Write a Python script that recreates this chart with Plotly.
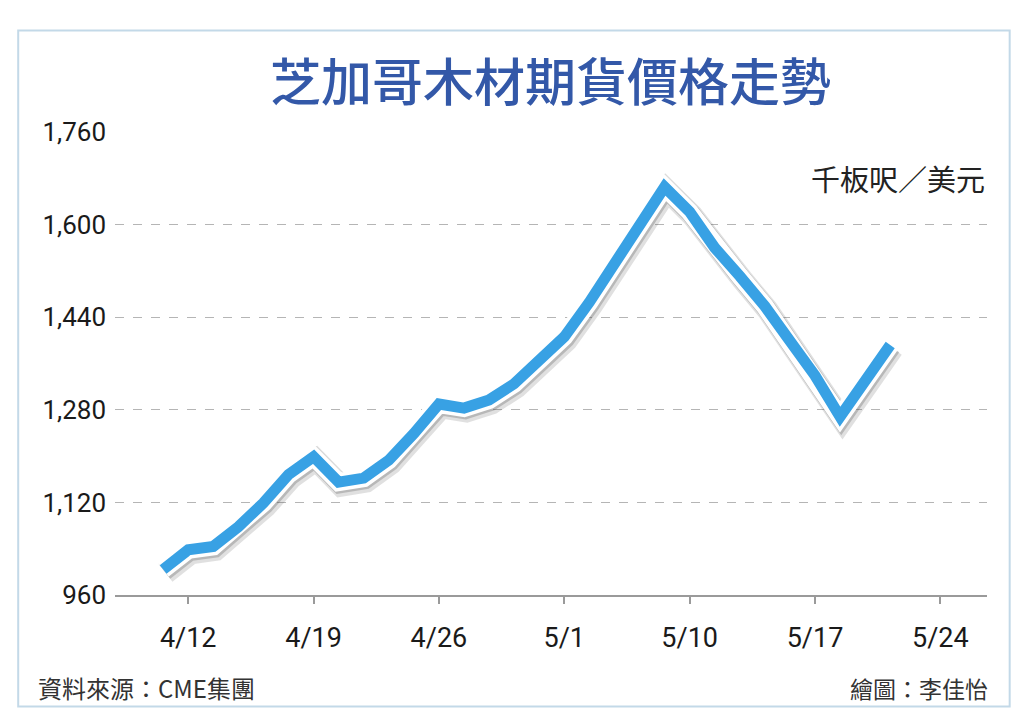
import plotly.graph_objects as go

# trading-day index (0 = 4/12) and settle price, USD per 1,000 board feet
day_idx = list(range(-1, 29))
price = [1004, 1038, 1044, 1078, 1119, 1168, 1199, 1155, 1162, 1193,
         1239, 1290, 1283, 1297, 1325, 1363, 1406, 1466, 1530, 1594,
         1665, 1622, 1560, 1511, 1459, 1399, 1339, 1268, 1330, 1392]

x_tick_pos = [0, 5, 10, 15, 20, 25, 30]
x_tick_text = ['4/12', '4/19', '4/26', '5/1', '5/10', '5/17', '5/24']
y_ticks = [960, 1120, 1280, 1440, 1600, 1760]

title_text = '芝加哥木材期貨價格走勢'
unit_text = '千板呎／美元'
source_text = '資料來源：CME集團'
credit_text = '繪圖：李佳怡'

CJK = 'Noto Sans CJK TC'
LINE_BLUE = '#38a1e4'

fig = go.Figure()

# soft drop shadow, white halo, then the blue line on top
fig.add_trace(go.Scatter(
    x=[d + 0.1 for d in day_idx], y=[p - 6 for p in price],
    mode='lines', line=dict(color='rgba(60,60,60,0.16)', width=22),
    hoverinfo='skip', showlegend=False))
fig.add_trace(go.Scatter(
    x=[d + 0.05 for d in day_idx], y=[p - 3 for p in price],
    mode='lines', line=dict(color='rgba(60,60,60,0.24)', width=19),
    hoverinfo='skip', showlegend=False))
fig.add_trace(go.Scatter(
    x=day_idx, y=price, mode='lines',
    line=dict(color='white', width=18),
    hoverinfo='skip', showlegend=False))
fig.add_trace(go.Scatter(
    x=day_idx, y=price, mode='lines',
    line=dict(color=LINE_BLUE, width=11),
    showlegend=False))

# the page body adds an 8px margin, so the figure is 8px smaller on each side
fig.update_layout(
    width=1016, height=717,
    margin=dict(l=107, r=37, t=124, b=130),
    paper_bgcolor='white', plot_bgcolor='white',
    showlegend=False,
    xaxis=dict(
        range=[-2.92, 31.86],
        tickmode='array', tickvals=x_tick_pos, ticktext=x_tick_text,
        ticks='outside', ticklen=7, tickwidth=1.5, tickcolor='#9a9a9a',
        showgrid=False, zeroline=False,
        showline=True, linecolor='#9a9a9a', linewidth=2,
        tickfont=dict(family='Roboto', size=27, color='#1a1a1a'),
        ticklabelstandoff=11,
        fixedrange=True,
    ),
    yaxis=dict(
        range=[960, 1760],
        tickmode='array', tickvals=y_ticks, tickformat=',',
        ticks='', showline=False, zeroline=False,
        showgrid=True, gridcolor='#b5b5b5', gridwidth=1, griddash='dash',
        tickfont=dict(family='Roboto', size=26, color='#1a1a1a'),
        ticklabelstandoff=8,
        fixedrange=True,
    ),
)

# outer frame
fig.add_shape(type='rect', xref='paper', yref='paper',
              x0=-0.111, x1=1.026, y0=-0.241, y1=1.219,
              line=dict(color='#c3d9e8', width=2), layer='below')

fig.add_annotation(text=title_text, xref='paper', yref='paper',
                   x=0.499, y=1.114, xanchor='center', yanchor='middle',
                   showarrow=False,
                   font=dict(family=CJK, size=51, color='#3358a8', weight=500))
fig.add_annotation(text=unit_text, xref='paper', yref='paper',
                   x=1.0, y=0.900, xanchor='right', yanchor='middle',
                   showarrow=False,
                   font=dict(family=CJK, size=29, color='#222222'))
fig.add_annotation(text=source_text, xref='paper', yref='paper',
                   x=-0.091, y=-0.200, xanchor='left', yanchor='middle',
                   showarrow=False,
                   font=dict(family=CJK, size=24, color='#333333'))
fig.add_annotation(text=credit_text, xref='paper', yref='paper',
                   x=1.003, y=-0.200, xanchor='right', yanchor='middle',
                   showarrow=False,
                   font=dict(family=CJK, size=23, color='#333333'))

fig.write_html('out.html')
